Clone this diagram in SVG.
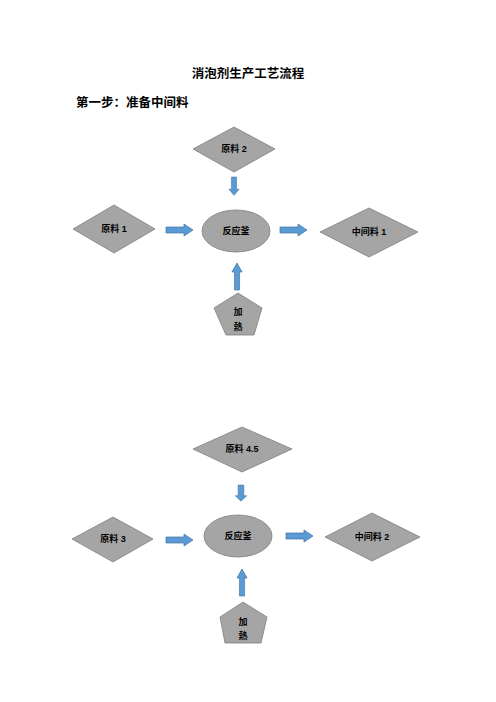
<svg xmlns="http://www.w3.org/2000/svg" xmlns:xlink="http://www.w3.org/1999/xlink" width="496" height="702" viewBox="0 0 496 702">
<style>
.shape{fill:#a5a5a5;stroke:#7f7f7f;stroke-width:0.8}
.lbl{font-family:"Liberation Sans","Noto Sans CJK SC",sans-serif;font-size:9px;font-weight:bold;fill:#000;text-anchor:middle;dominant-baseline:central}
.head{font-family:"Liberation Serif","Noto Sans CJK SC",serif;font-weight:bold;font-size:12.5px;fill:#000}
.arr{fill:#5b9bd5;stroke:#41719c;stroke-width:0.7}
</style>
<defs>
<path id="ar" class="arr" d="M0,-3 L18,-3 L18,-6 L27,0 L18,6 L18,3 L0,3 Z"/>
</defs>
<rect width="496" height="702" fill="#fff"/>
<text class="head" x="248" y="78" text-anchor="middle">消泡剂生产工艺流程</text>
<text class="head" x="76" y="107">第一步：准备中间料</text>

<g id="connectors">
<use xlink:href="#ar" transform="translate(234,177) rotate(90) scale(0.68,0.85)"/>
<use xlink:href="#ar" transform="translate(166,230)"/>
<use xlink:href="#ar" transform="translate(280,230)"/>
<use xlink:href="#ar" transform="translate(237,290) rotate(-90) scale(1,0.85)"/>
<use xlink:href="#ar" transform="translate(241,485) rotate(90) scale(0.6,0.95)"/>
<use xlink:href="#ar" transform="translate(166,540)"/>
<use xlink:href="#ar" transform="translate(286,536)"/>
<use xlink:href="#ar" transform="translate(242,596) rotate(-90) scale(1,0.85)"/>
</g>

<g id="raw2">
<polygon class="shape" points="193,149 234,127 275,149 234,172"/>
<text class="lbl" x="234" y="149">原料 2</text>
</g>
<g id="raw1">
<polygon class="shape" points="73,229 114,205 155,229 114,253"/>
<text class="lbl" x="114" y="229">原料 1</text>
</g>
<g id="reactor1">
<ellipse class="shape" cx="236" cy="231" rx="34" ry="21"/>
<text class="lbl" x="236" y="231" font-weight="normal">反应釜</text>
</g>
<g id="mid1">
<polygon class="shape" points="320,232 369,208 418,232 369,257"/>
<text class="lbl" x="369" y="232">中间料 1</text>
</g>
<g id="heat1">
<polygon class="shape" points="238,293 262,308 254,335 226,335 214,308"/>
<text class="lbl" x="238" y="312">加</text>
<text class="lbl" x="238" y="327">熱</text>
</g>

<g id="raw45">
<polygon class="shape" points="193,449 242,427 292,449 242,472"/>
<text class="lbl" x="242" y="449">原料 4.5</text>
</g>
<g id="raw3">
<polygon class="shape" points="72,539 113,517 153,539 113,562"/>
<text class="lbl" x="113" y="539">原料 3</text>
</g>
<g id="reactor2">
<ellipse class="shape" cx="238" cy="536" rx="34" ry="21"/>
<text class="lbl" x="238" y="536" font-weight="normal">反应釜</text>
</g>
<g id="mid2">
<polygon class="shape" points="325,537 372,513 420,537 372,561"/>
<text class="lbl" x="372" y="537">中间料 2</text>
</g>
<g id="heat2">
<polygon class="shape" points="243,602 267,617 261,643 225,643 220,617"/>
<text class="lbl" x="243" y="622">加</text>
<text class="lbl" x="243" y="636">熱</text>
</g>
</svg>
